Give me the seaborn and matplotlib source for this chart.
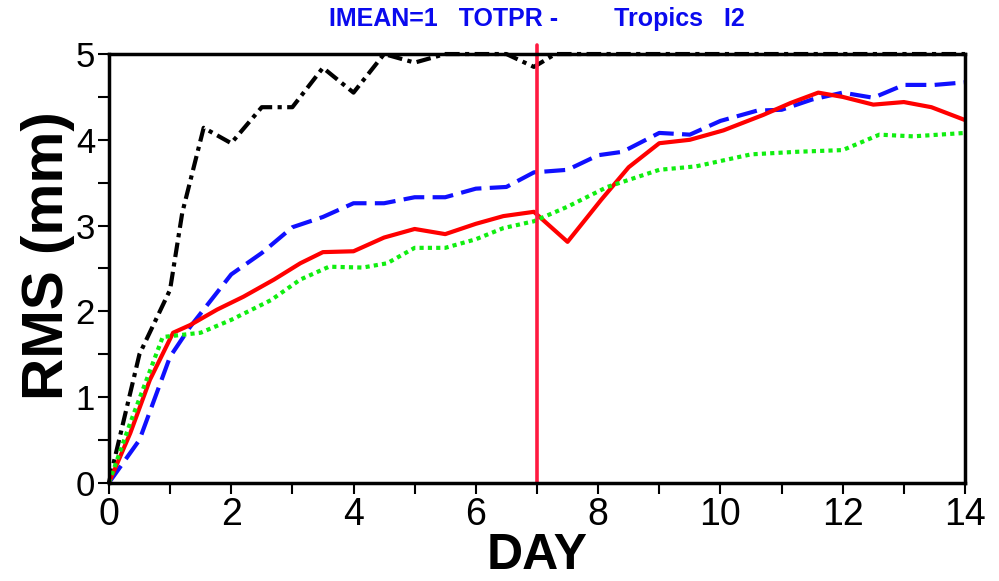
import matplotlib
matplotlib.use("Agg")
import matplotlib.pyplot as plt
import seaborn as sns
import pandas as pd

# --- data -------------------------------------------------------------
black_days = [0, 0.5, 1.0, 1.2, 1.55, 2.0, 2.5, 3.0, 3.5, 4.0, 4.5, 5.0, 5.5,
              6.0, 6.5, 6.95, 7.3, 8, 9, 10, 11, 12, 13, 14]
black_rms = [0, 1.5, 2.25, 3.15, 4.14, 3.96, 4.38, 4.38, 4.84, 4.55, 5.0, 4.9, 5.0,
             5.0, 5.0, 4.85, 5.0, 5.0, 5.0, 5.0, 5.0, 5.0, 5.0, 5.0]

blue_days = [0, 0.5, 1.0, 1.33, 2.0, 2.5, 3.0, 3.5, 4.0, 4.5, 5.0, 5.5, 6.0,
             6.5, 6.95, 7.5, 8.0, 8.4, 9.0, 9.5, 10.0, 10.6, 11.0, 11.5, 12.0,
             12.5, 13.0, 13.5, 14.0]
blue_rms = [0, 0.5, 1.47, 1.82, 2.43, 2.68, 2.98, 3.1, 3.26, 3.26, 3.33, 3.33, 3.43,
            3.45, 3.62, 3.65, 3.82, 3.86, 4.08, 4.06, 4.22, 4.34, 4.35, 4.47, 4.55,
            4.49, 4.64, 4.64, 4.67]

red_days = [0, 0.35, 0.67, 1.05, 1.33, 1.77, 2.2, 2.7, 3.13, 3.5, 4.0, 4.5, 5.0,
            5.5, 6.0, 6.45, 6.95, 7.5, 8.05, 8.5, 9.0, 9.5, 10.05, 10.7, 11.15,
            11.6, 12.0, 12.5, 13.0, 13.45, 14.0]
red_rms = [0, 0.58, 1.2, 1.75, 1.84, 2.02, 2.17, 2.37, 2.56, 2.69, 2.7, 2.86, 2.96,
           2.9, 3.02, 3.11, 3.16, 2.81, 3.3, 3.68, 3.96, 4.0, 4.11, 4.29, 4.43,
           4.55, 4.5, 4.41, 4.44, 4.38, 4.23]

green_days = [0, 0.35, 0.88, 1.5, 2.0, 2.65, 3.13, 3.6, 4.15, 4.55, 5.0, 5.5, 6.0,
              6.45, 6.95, 7.5, 8.15, 9.0, 9.6, 10.5, 11.25, 12.0, 12.6, 13.15, 14.0]
green_rms = [0, 0.7, 1.7, 1.75, 1.9, 2.13, 2.37, 2.52, 2.51, 2.56, 2.74, 2.74, 2.84,
             2.97, 3.05, 3.22, 3.45, 3.65, 3.69, 3.83, 3.86, 3.88, 4.06, 4.04, 4.08]

marker_day = 7.0

x_ticks = list(range(0, 15, 2))
y_ticks = [0, 1, 2, 3, 4, 5]
title_text = "IMEAN=1   TOTPR -        Tropics   I2"

# --- figure -----------------------------------------------------------
sns.set_theme(style="white")
plt.rcParams["font.family"] = ["Liberation Sans", "DejaVu Sans"]
plt.rcParams["text.color"] = "black"
plt.rcParams["axes.labelcolor"] = "black"
plt.rcParams["xtick.color"] = "black"
plt.rcParams["ytick.color"] = "black"

fig = plt.figure(figsize=(9.99, 5.81), dpi=100)
ax = fig.add_axes([0.109, 0.169, 0.857, 0.738])

lw = 3.0
series = [
    (black_days, black_rms, "black", (0, (3.5, 1.3, 1.0, 1.3)), False),
    (blue_days, blue_rms, "#1010ff", (0, (5, 2)), True),
    (red_days, red_rms, "#ff0000", "-", True),
    (green_days, green_rms, "#10ee10", (0, (1, 1)), True),
]
for days, vals, color, ls, clip in series:
    df = pd.DataFrame({"day": days, "rms": vals})
    sns.lineplot(data=df, x="day", y="rms", ax=ax, color=color, linewidth=lw,
                 linestyle=ls, sort=False, estimator=None)
    ax.lines[-1].set_clip_on(clip)
    ax.lines[-1].set_dash_capstyle("butt")

ax.axvline(marker_day, color="#ff1a40", linewidth=2.6, ymin=0, ymax=1.02, clip_on=False)

ax.set_xlim(0, 14)
ax.set_ylim(0, 5)
ax.set_xticks(x_ticks)
ax.set_xticks(range(0, 15), minor=True)
ax.set_yticks(y_ticks)
ax.set_yticks([i * 0.5 for i in range(11)], minor=True)
ax.set_xticklabels([str(t) for t in x_ticks], fontsize=27)
ax.set_yticklabels([str(t) for t in y_ticks], fontsize=25)
ax.tick_params(axis="both", which="both", direction="out", length=8, width=1.5,
               color="black", bottom=True, left=True, pad=2)

for s in ax.spines.values():
    s.set_linewidth(2.5)
    s.set_color("black")

ax.set_xlabel("DAY", fontsize=36, fontweight="bold", labelpad=0)
ax.set_ylabel("RMS (mm)", fontsize=42, fontweight="bold")
ax.yaxis.set_label_coords(-0.04, 0.53)
ax.set_title(title_text, fontsize=18, fontweight="bold", color="#0a0aee", pad=20)

fig.savefig("out.png", dpi=100)
